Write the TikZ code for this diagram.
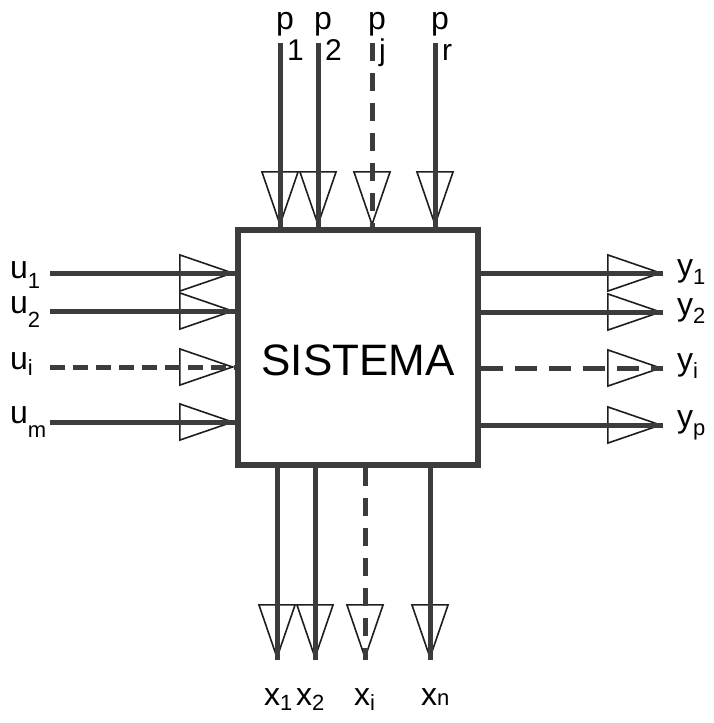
\documentclass[tikz,border=0pt]{standalone}
\usepackage{fontspec}
\setmainfont{Liberation Sans}
\usetikzlibrary{arrows.meta}
\definecolor{ink}{HTML}{3C3C3C}
\definecolor{edge}{HTML}{1E1E1E}
\newcommand{\lab}[3][10pt]{#2\raisebox{-#1}{\fontsize{22}{22}\selectfont #3}}
\newcommand{\plab}[2]{#1\kern-7pt\raisebox{-31pt}{\fontsize{30}{30}\selectfont #2}}

\begin{document}
\begin{tikzpicture}[x=1pt,y=-1pt,sysbox/.style={draw=ink,line width=6pt,minimum width=240pt,minimum height=235pt,inner sep=0},flow/.style={draw=ink,line width=5pt,preaction={draw=white,line width=.2pt,-{Triangle[open,length=56pt,width=38pt,line width=1.6pt,color=edge]}}},broken/.style={dash pattern=on 18pt off 12pt},lbl/.style={font=\fontsize{32}{36}\selectfont,inner sep=0,anchor=base west}]
 \useasboundingbox (0,0) rectangle (714,723);
 \node[sysbox] (sys) at (358,347.5) {};
 \node[font=\fontsize{44}{50}\selectfont,inner sep=0] (title) at (358,360) {SISTEMA};
 \coordinate (p1) at (280,43); \coordinate (p2) at (318,43); \coordinate (pj) at (372,43); \coordinate (pr) at (435,43);
 \coordinate (u1) at (50,273); \coordinate (u2) at (50,311); \coordinate (ui) at (50,367); \coordinate (um) at (50,422);
 \coordinate (y1) at (663,273); \coordinate (y2) at (663,312); \coordinate (yi) at (663,368); \coordinate (yp) at (663,425);
 \coordinate (x1) at (277,660); \coordinate (x2) at (315,660); \coordinate (xi) at (365,660); \coordinate (xn) at (430,660);
 \draw[flow] (p1) -- (p1 |- sys.north);
 \draw[flow] (p2) -- (p2 |- sys.north);
 \draw[flow,broken] (pj) -- (pj |- sys.north);
 \draw[flow] (pr) -- (pr |- sys.north);
 \draw[flow] (u1) -- (u1 -| sys.west);
 \draw[flow] (u2) -- (u2 -| sys.west);
 \draw[flow,dash pattern=on 15pt off 8pt] (ui) -- (ui -| sys.west);
 \draw[flow] (um) -- (um -| sys.west);
 \draw[flow] (y1 -| sys.east) -- (y1);
 \draw[flow] (y2 -| sys.east) -- (y2);
 \draw[flow,dash pattern=on 22pt off 12pt] (yi -| sys.east) -- (yi);
 \draw[flow] (yp -| sys.east) -- (yp);
 \draw[flow] (x1 |- sys.south) -- (x1);
 \draw[flow] (x2 |- sys.south) -- (x2);
 \draw[flow,broken] (xi |- sys.south) -- (xi);
 \draw[flow] (xn |- sys.south) -- (xn);
 \node[lbl] (lp1) at (276,29) {\plab{p}{1}};
 \node[lbl] (lp2) at (314,29) {\plab{p}{2}};
 \node[lbl] (lpj) at (368,29) {\plab{p}{j}};
 \node[lbl] (lpr) at (431,29) {\plab{p}{r}};
 \node[lbl] (lu1) at (10,278) {\lab{u}{1}};
 \node[lbl] (lu2) at (10,313) {\lab[14pt]{u}{2}};
 \node[lbl] (lui) at (10,369) {\lab[6pt]{u}{i}};
 \node[lbl] (lum) at (10,423) {\lab[14pt]{u}{m}};
 \node[lbl] (ly1) at (677,276) {\lab[8pt]{y}{1}};
 \node[lbl] (ly2) at (677,315) {\lab[8pt]{y}{2}};
 \node[lbl] (lyi) at (677,370) {\lab[8pt]{y}{i}};
 \node[lbl] (lyp) at (677,427) {\lab[8pt]{y}{p}};
 \node[lbl] (lx1) at (264,705) {\lab[5pt]{x}{1}};
 \node[lbl] (lx2) at (296,705) {\lab[5pt]{x}{2}};
 \node[lbl] (lxi) at (354,705) {\lab[5pt]{x}{i}};
 \node[lbl] (lxn) at (421,705) {\lab[0pt]{x}{n}};
\end{tikzpicture}
\end{document}
